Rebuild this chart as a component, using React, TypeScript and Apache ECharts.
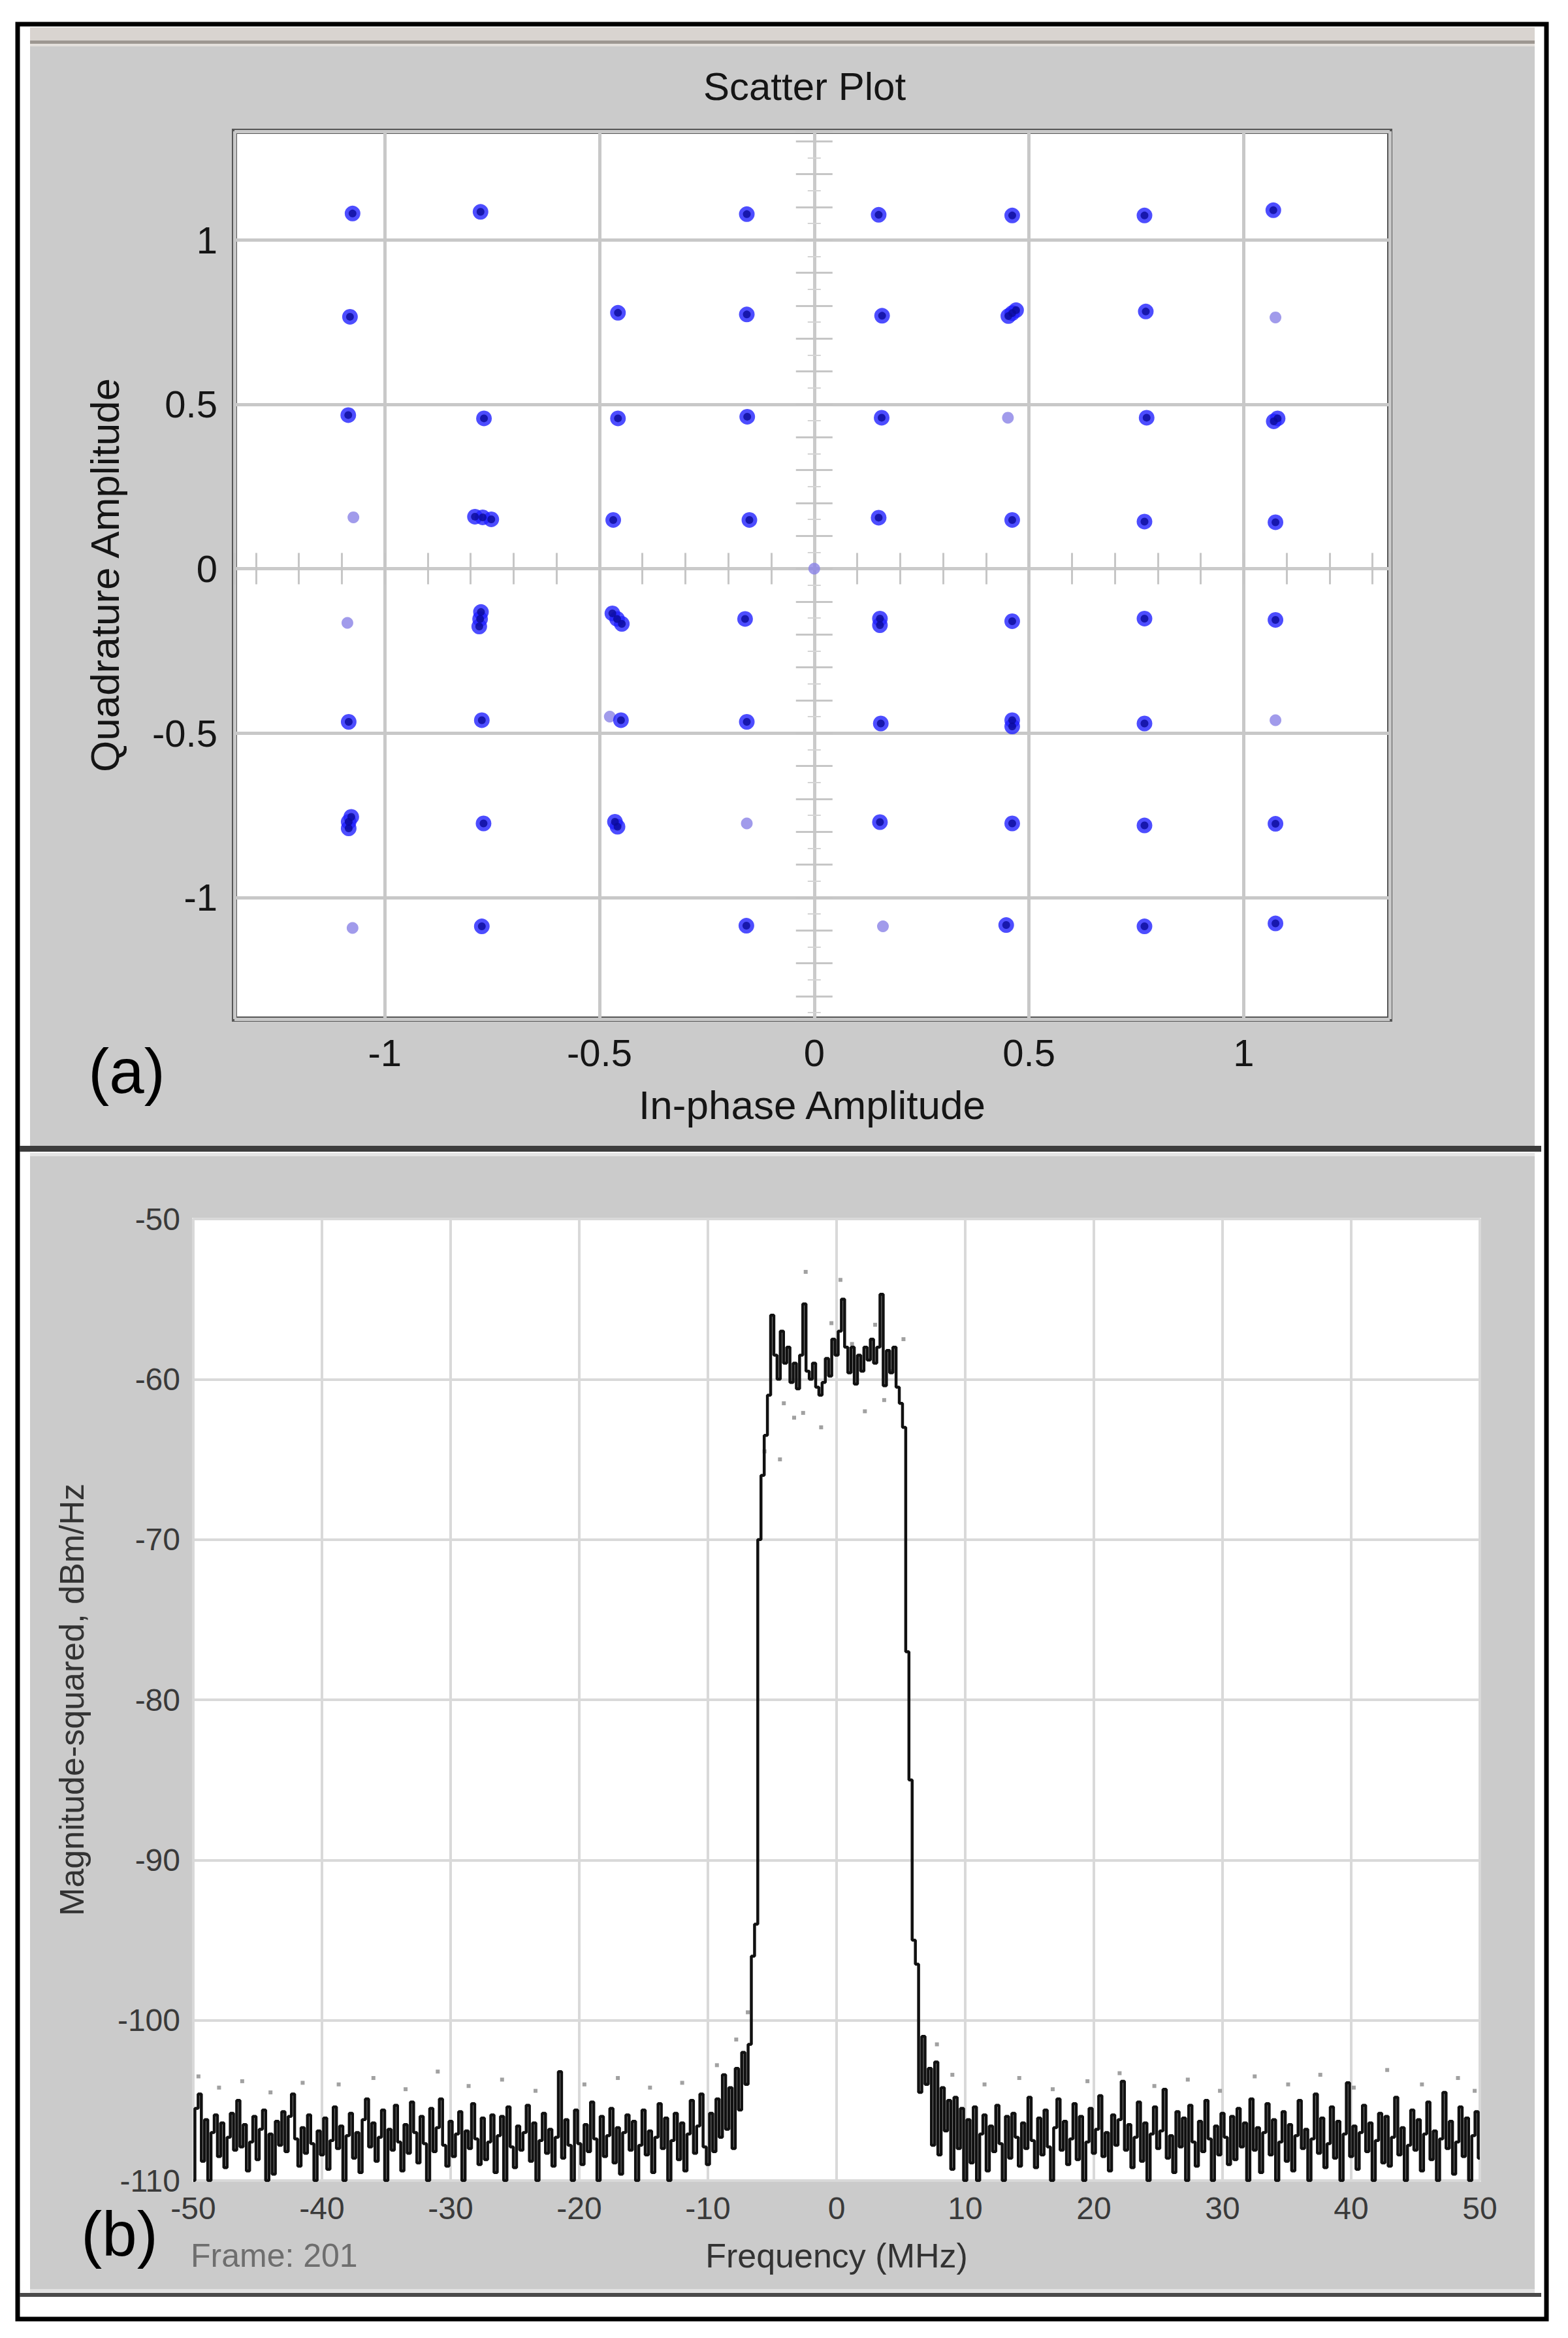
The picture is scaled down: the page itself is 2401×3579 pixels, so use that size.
import React, { useEffect, useRef } from 'react';
import * as echarts from 'echarts';

const WIDTH = 2401;
const HEIGHT = 3579;
const FONT = '"Liberation Sans", Arial, sans-serif';

// ---------------- Panel (a): Scatter Plot ----------------
const scatterTitle = 'Scatter Plot';
const iAxisName = 'In-phase Amplitude';
const qAxisName = 'Quadrature Amplitude';
const iTicks = [-1, -0.5, 0, 0.5, 1];
const qTicks = [-1, -0.5, 0, 0.5, 1];
const iMin = -1.35;
const iMax = 1.34;
const qMin = -1.37;
const qMax = 1.33;

// received symbols (In-phase, Quadrature), strong clusters
const strongSymbols: [number, number][] = [
  [-1.075, 1.080], [-0.777, 1.085], [-0.157, 1.078], [0.150, 1.076], [0.461, 1.074], [0.769, 1.074], [1.069, 1.090],
  [-1.081, 0.766], [-0.457, 0.778], [-0.157, 0.773], [0.158, 0.769], [0.461, 0.777], [0.452, 0.768], [0.470, 0.786], [0.772, 0.782],
  [-1.085, 0.467], [-0.769, 0.457], [-0.457, 0.457], [-0.156, 0.462], [0.157, 0.459], [0.774, 0.459], [1.079, 0.457], [1.070, 0.448],
  [-0.772, 0.156], [-0.790, 0.158], [-0.752, 0.150], [-0.468, 0.148], [-0.151, 0.148], [0.150, 0.155], [0.461, 0.148], [0.769, 0.143], [1.074, 0.141],
  [-0.778, -0.153], [-0.776, -0.132], [-0.780, -0.176], [-0.459, -0.153], [-0.470, -0.136], [-0.448, -0.168], [-0.161, -0.153], [0.153, -0.152],
  [0.153, -0.172], [0.461, -0.160], [0.769, -0.152], [1.074, -0.156],
  [-1.084, -0.466], [-0.774, -0.461], [-0.450, -0.461], [-0.157, -0.466], [0.155, -0.471], [0.461, -0.461], [0.461, -0.480], [0.769, -0.471],
  [-1.084, -0.770], [-1.084, -0.790], [-1.078, -0.755], [-0.770, -0.775], [-0.464, -0.770], [-0.458, -0.785], [0.153, -0.771], [0.461, -0.775],
  [0.769, -0.781], [1.074, -0.776],
  [-0.774, -1.088], [-0.158, -1.086], [0.447, -1.084], [0.769, -1.088], [1.074, -1.079],
];

// received symbols, faint clusters
const faintSymbols: [number, number][] = [
  [-1.073, 0.156], [-1.087, -0.165], [-1.075, -1.093], [-0.157, -0.775], [0.160, -1.088],
  [1.074, 0.764], [0.451, 0.459], [-0.476, -0.450], [1.074, -0.461], [0, 0],
];

// ---------------- Panel (b): Spectrum ----------------
const freqAxisName = 'Frequency (MHz)';
const psdAxisName = 'Magnitude-squared, dBm/Hz';
const frameLabel = 'Frame: 201';
const freqMin = -50;
const freqMax = 50;
const freqInterval = 10;
const psdMin = -110;
const psdMax = -50;
const psdInterval = 10;
const freqStart = -50;
const freqStep = 0.25;

// -50 .. -7.25 MHz
const psdLeft = [
  -110.0, -105.5, -104.6, -108.8, -106.2, -110.0, -107.0, -105.9, -108.5, -106.4,
  -109.2, -107.3, -105.8, -108.1, -105.0, -107.9, -106.5, -109.4, -107.6, -106.0,
  -108.7, -106.8, -105.6, -110.0, -107.1, -109.6, -106.3, -107.8, -105.7, -108.2,
  -106.0, -104.6, -107.4, -109.1, -106.7, -108.3, -105.9, -107.7, -110.0, -106.9,
  -108.4, -106.1, -109.3, -107.5, -105.4, -108.0, -106.6, -110.0, -107.2, -105.8,
  -108.6, -107.0, -109.5, -106.2, -104.9, -107.9, -106.4, -108.8, -107.3, -105.6,
  -110.0, -106.8, -108.1, -105.3, -107.6, -109.4, -106.5, -108.3, -105.1, -107.0,
  -108.9, -106.0, -107.7, -110.0, -105.5, -108.2, -106.7, -104.9, -107.8, -109.1,
  -106.3, -108.5, -107.1, -105.7, -110.0, -106.9, -108.0, -105.2, -107.4, -109.0,
  -106.1, -108.7, -107.6, -105.9, -109.5, -107.2, -106.0, -110.0, -105.4, -107.9,
  -109.2, -106.6, -108.1, -107.0, -105.3, -108.8, -106.4, -110.0, -107.5, -105.8,
  -108.3, -106.8, -109.1, -107.3, -103.2, -108.6, -106.2, -107.8, -110.0, -105.6,
  -107.7, -109.0, -106.5, -108.2, -105.1, -107.4, -110.0, -106.0, -108.5, -107.2,
  -105.5, -108.9, -106.7, -109.6, -107.0, -105.9, -108.1, -106.3, -110.0, -107.8,
  -105.6, -108.4, -106.9, -109.5, -107.3, -105.2, -108.0, -106.1, -110.0, -107.5,
  -105.8, -108.7, -106.4, -109.4, -107.1, -105.0, -108.3, -106.6, -104.6, -107.9,
  -109.0, -105.8, -108.2, -104.9, -107.3, -103.4, -106.8, -104.2, -108.0, -103.0,
  -105.6, -102.0,
];

// -7 .. 7 MHz (occupied band)
const psdBand = [
  -104.0, -101.5, -96.0, -94.0, -70.0, -66.0, -63.5, -61.0, -56.0, -58.5,
  -60.0, -57.0, -59.0, -58.0, -60.2, -59.0, -60.6, -58.5, -55.3, -59.5,
  -60.0, -59.0, -60.5, -61.0, -60.2, -58.7, -59.8, -57.5, -58.5, -57.0,
  -55.0, -58.0, -59.6, -58.0, -60.3, -58.5, -59.5, -58.0, -58.8, -57.5,
  -59.0, -58.0, -54.7, -60.4, -58.2, -59.6, -58.0, -60.5, -61.5, -63.0,
  -77.0, -85.0, -95.0, -96.5, -104.5, -101.0, -104.0,
];

// 7.25 .. 50 MHz
const psdRight = [
  -103.0, -107.8, -102.6, -108.4, -104.2, -106.9, -105.0, -109.3, -104.8, -108.0,
  -105.5, -110.0,
  -106.2, -108.9, -105.4, -110.0, -107.1, -105.9, -109.4, -106.6, -108.2, -105.3,
  -107.7, -110.0, -106.0, -108.6, -105.8, -107.3, -109.1, -106.4, -108.0, -104.8,
  -107.5, -109.2, -106.1, -108.4, -105.6, -107.9, -110.0, -106.7, -104.9, -108.1,
  -106.3, -109.0, -107.4, -105.2, -108.7, -106.0, -110.0, -107.6, -105.5, -108.3,
  -106.8, -104.7, -108.5, -107.0, -109.4, -105.9, -107.8, -106.2, -103.8, -108.1,
  -106.5, -109.2, -107.3, -105.1, -108.8, -106.4, -110.0, -107.1, -105.4, -108.0,
  -106.9, -104.3, -108.6, -107.2, -109.5, -105.7, -107.9, -106.1, -110.0, -105.3,
  -107.6, -109.1, -106.3, -108.2, -105.0, -107.4, -110.0, -106.6, -108.4, -105.8,
  -107.3, -109.0, -106.0, -108.7, -105.5, -107.9, -106.4, -110.0, -104.9, -108.1,
  -106.7, -109.5, -107.0, -105.2, -108.4, -106.2, -110.0, -107.6, -105.7, -108.8,
  -106.5, -109.4, -107.2, -105.0, -108.0, -106.8, -110.0, -107.4, -104.6, -108.3,
  -106.1, -109.2, -107.7, -105.4, -108.6, -106.3, -110.0, -107.1, -103.9, -108.5,
  -106.6, -109.3, -107.0, -105.3, -108.2, -106.4, -110.0, -107.5, -105.8, -108.9,
  -106.0, -109.1, -107.3, -104.8, -108.4, -106.7, -110.0, -107.8, -105.6, -108.1,
  -106.2, -109.4, -107.1, -105.1, -108.7, -106.9, -110.0, -107.4, -104.5, -108.0,
  -106.3, -109.6, -107.6, -105.4, -108.5, -106.1, -110.0, -107.2, -105.7, -108.6,
];

// stray points from the spectrum display (frequency MHz, dBm/Hz)
const psdSpecks: [number, number][] = [
  [-49.6, -103.5], [-48.0, -104.2], [-46.2, -103.8], [-44.0, -104.5], [-41.5, -103.9],
  [-38.7, -104.0], [-36.0, -103.6], [-33.5, -104.3], [-31.0, -103.2], [-28.6, -104.1],
  [-26.0, -103.7], [-23.4, -104.4], [-19.6, -104.0], [-17.0, -103.6], [-14.5, -104.2],
  [-12.0, -103.9], [-9.3, -102.8], [-7.8, -101.2], [-6.9, -99.5],
  [7.8, -101.5], [9.0, -103.4], [11.5, -104.0], [14.2, -103.6], [16.8, -104.3],
  [19.5, -103.8], [22.0, -103.3], [24.7, -104.1], [27.3, -103.7], [29.8, -104.4],
  [32.5, -103.5], [35.1, -104.0], [37.6, -103.4], [40.2, -104.2], [42.8, -103.1],
  [45.5, -104.0], [48.3, -103.6], [49.6, -104.4],
  [-4.1, -61.5], [-3.3, -62.4], [-2.6, -62.1], [-1.2, -63.0], [-4.4, -65.0],
  [2.2, -62.0], [3.7, -61.3], [-2.4, -53.3], [1.2, -57.8], [4.2, -59.5],
  [-5.6, -64.5], [0.3, -53.8], [-0.4, -56.5], [3.0, -56.6], [5.2, -57.5],
];

const psdValues = [...psdLeft, ...psdBand, ...psdRight];
const psdTrace = psdValues.map((v, i) => [freqStart + i * freqStep, v]);

// ---------------- layout ----------------
const A = { left: 359, top: 201, width: 1769, height: 1359 };
const B = { left: 296, top: 1866, width: 1970, height: 1472 };

function fmtTick(v: number) {
  return String(v);
}

export default function App() {
  const ref = useRef<HTMLDivElement>(null);

  useEffect(() => {
    document.body.style.margin = '0';
    if (!ref.current) return;
    const chart = echarts.init(ref.current, undefined, { renderer: 'svg' });

    const crossTick = { show: true, length: 24, lineStyle: { color: '#c6c6c6', width: 3 } };
    const crossTickY = { show: true, length: 28, lineStyle: { color: '#c6c6c6', width: 3 } };
    const crossMinor = { show: true, splitNumber: 2, length: 10, lineStyle: { color: '#d4d4d4', width: 2 } };

    const gridA = { left: A.left, top: A.top, width: A.width, height: A.height };

    const option: any = {
      animation: false,
      backgroundColor: '#ffffff',
      textStyle: { fontFamily: FONT },
      graphic: {
        elements: [
          { type: 'rect', z: -10, shape: { x: 27, y: 37, width: 2341, height: 3513 }, style: { fill: '#ffffff', stroke: '#000000', lineWidth: 7 } },
          { type: 'rect', z: -9, shape: { x: 46, y: 42, width: 2304, height: 1718 }, style: { fill: '#cbcbcb' } },
          { type: 'rect', z: -8, shape: { x: 46, y: 42, width: 2304, height: 20 }, style: { fill: '#d9d4d0' } },
          { type: 'rect', z: -8, shape: { x: 46, y: 62, width: 2304, height: 5 }, style: { fill: '#9d9791' } },
          { type: 'rect', z: -8, shape: { x: 46, y: 67, width: 2304, height: 4 }, style: { fill: '#e3dfdb' } },
          { type: 'rect', z: -9, shape: { x: 46, y: 1768, width: 2304, height: 1742 }, style: { fill: '#cbcbcb' } },
          { type: 'rect', z: -8, shape: { x: 30, y: 1754, width: 2330, height: 9 }, style: { fill: '#3c3c3c' } },
          { type: 'rect', z: -8, shape: { x: 46, y: 1765, width: 2304, height: 5 }, style: { fill: '#e4e4e4' } },
          { type: 'rect', z: -8, shape: { x: 30, y: 3510, width: 2330, height: 6 }, style: { fill: '#4a4a4a' } },
          { type: 'rect', z: -8, shape: { x: 46, y: 3504, width: 2304, height: 6 }, style: { fill: '#e2e2e2' } },
          {
            type: 'text', z: 10, x: 1232, y: 132,
            style: { text: scatterTitle, fontSize: 60, fontFamily: FONT, fill: '#151515', align: 'center', verticalAlign: 'middle' },
          },
          {
            type: 'text', z: 10, x: 194, y: 1639,
            style: { text: '(a)', fontSize: 96, fontFamily: FONT, fill: '#000000', align: 'center', verticalAlign: 'middle' },
          },
          {
            type: 'text', z: 10, x: 183, y: 3419,
            style: { text: '(b)', fontSize: 96, fontFamily: FONT, fill: '#000000', align: 'center', verticalAlign: 'middle' },
          },
          {
            type: 'text', z: 10, x: 292, y: 3453,
            style: { text: frameLabel, fontSize: 50, fontFamily: FONT, fill: '#6e6e6e', align: 'left', verticalAlign: 'middle' },
          },
        ],
      },
      grid: [
        { ...gridA, show: true, backgroundColor: '#ffffff', borderColor: '#575757', borderWidth: 8 },
        { ...gridA, show: false },
        { ...gridA, show: false },
        { left: B.left, top: B.top, width: B.width, height: B.height, show: true, backgroundColor: '#ffffff', borderColor: '#e4e4e4', borderWidth: 4 },
      ],
      xAxis: [
        {
          gridIndex: 0, type: 'value', min: iMin, max: iMax, minInterval: 0.5, maxInterval: 0.5, position: 'bottom',
          axisLine: { show: false, onZero: false }, axisTick: { show: false },
          axisLabel: { customValues: iTicks, formatter: fmtTick, margin: 22, fontSize: 58, color: '#151515', fontFamily: FONT },
          splitLine: { show: true, lineStyle: { color: '#c8c8c8', width: 5 } },
          name: iAxisName, nameLocation: 'middle', nameGap: 100,
          nameTextStyle: { fontSize: 62, color: '#151515', fontFamily: FONT },
        },
        {
          gridIndex: 1, type: 'value', min: iMin, max: iMax, minInterval: 0.1, maxInterval: 0.1, splitNumber: 27, position: 'bottom',
          axisLine: { show: true, onZero: true, lineStyle: { color: '#cacaca', width: 4 } }, axisTick: crossTick,
          axisLabel: { show: false }, splitLine: { show: false },
        },
        {
          gridIndex: 2, type: 'value', min: iMin, max: iMax, minInterval: 0.1, maxInterval: 0.1, splitNumber: 27, position: 'top',
          axisLine: { show: false, onZero: true }, axisTick: crossTick,
          axisLabel: { show: false }, splitLine: { show: false },
        },
        {
          gridIndex: 3, type: 'value', min: freqMin, max: freqMax, interval: freqInterval, position: 'bottom',
          axisLine: { show: false, onZero: false }, axisTick: { show: false },
          axisLabel: { margin: 18, fontSize: 48, color: '#3a3a3a', fontFamily: FONT },
          splitLine: { show: true, lineStyle: { color: '#d9d9d9', width: 4 } },
          name: freqAxisName, nameLocation: 'middle', nameGap: 89,
          nameTextStyle: { fontSize: 52, color: '#333333', fontFamily: FONT },
        },
      ],
      yAxis: [
        {
          gridIndex: 0, type: 'value', min: qMin, max: qMax, minInterval: 0.5, maxInterval: 0.5, position: 'left',
          axisLine: { show: false, onZero: false }, axisTick: { show: false },
          axisLabel: { customValues: qTicks, formatter: fmtTick, margin: 26, fontSize: 58, color: '#151515', fontFamily: FONT },
          splitLine: { show: true, lineStyle: { color: '#c8c8c8', width: 5 } },
          name: qAxisName, nameLocation: 'middle', nameGap: 168,
          nameTextStyle: { fontSize: 62, color: '#151515', fontFamily: FONT },
        },
        {
          gridIndex: 1, type: 'value', min: qMin, max: qMax, minInterval: 0.1, maxInterval: 0.1, splitNumber: 27, position: 'left',
          axisLine: { show: true, onZero: true, lineStyle: { color: '#cacaca', width: 4 } }, axisTick: crossTickY, minorTick: crossMinor,
          axisLabel: { show: false }, splitLine: { show: false },
        },
        {
          gridIndex: 2, type: 'value', min: qMin, max: qMax, minInterval: 0.1, maxInterval: 0.1, splitNumber: 27, position: 'right',
          axisLine: { show: false, onZero: true }, axisTick: crossTickY, minorTick: crossMinor,
          axisLabel: { show: false }, splitLine: { show: false },
        },
        {
          gridIndex: 3, type: 'value', min: psdMin, max: psdMax, interval: psdInterval, position: 'left',
          axisLine: { show: false, onZero: false }, axisTick: { show: false },
          axisLabel: { margin: 20, fontSize: 48, color: '#3a3a3a', fontFamily: FONT },
          splitLine: { show: true, lineStyle: { color: '#d9d9d9', width: 4 } },
          name: psdAxisName, nameLocation: 'middle', nameGap: 160,
          nameTextStyle: { fontSize: 52, color: '#333333', fontFamily: FONT },
        },
      ],
      series: [
        {
          name: 'faint symbols', type: 'scatter', xAxisIndex: 0, yAxisIndex: 0, data: faintSymbols,
          symbol: 'circle', symbolSize: 18, itemStyle: { color: '#8a82e6' }, silent: true,
        },
        {
          name: 'symbols', type: 'scatter', xAxisIndex: 0, yAxisIndex: 0, data: strongSymbols,
          symbol: 'circle', symbolSize: 24, itemStyle: { color: '#2020ff' }, silent: true,
        },
        {
          name: 'symbol cores', type: 'scatter', xAxisIndex: 0, yAxisIndex: 0, data: strongSymbols,
          symbol: 'circle', symbolSize: 12, itemStyle: { color: '#0a0a98' }, silent: true,
        },
        {
          name: 'specks', type: 'scatter', xAxisIndex: 3, yAxisIndex: 3, data: psdSpecks,
          symbol: 'rect', symbolSize: 6, itemStyle: { color: '#8a8a8a' }, silent: true,
        },
        {
          name: 'spectrum', type: 'line', xAxisIndex: 3, yAxisIndex: 3, data: psdTrace,
          step: 'middle', symbol: 'none', lineStyle: { color: '#111111', width: 4.5 }, silent: true, clip: true,
        },
      ],
    };

    chart.setOption(option);
    return () => {
      chart.dispose();
    };
  }, []);

  return <div ref={ref} style={{ width: WIDTH, height: HEIGHT, background: '#ffffff' }} />;
}
